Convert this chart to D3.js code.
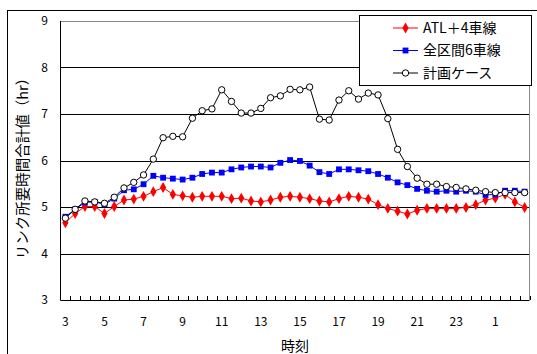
<!DOCTYPE html>
<html lang="ja">
  <head>
    <meta charset="utf-8" />
    <title>リンク所要時間合計値</title>
    <script src="https://cdn.jsdelivr.net/npm/d3@7"></script>
    <style>
      body { margin: 0; background: #fff; }
      text { font-family: "Noto Sans CJK JP", "DejaVu Sans", sans-serif; fill: #000; }
    </style>
  </head>
  <body>
    <script>
      // time slots, every 30 minutes from 3:00 to 26:30 (= 2:30 next day)
      const times = [3, 3.5, 4, 4.5, 5, 5.5, 6, 6.5, 7, 7.5, 8, 8.5, 9, 9.5, 10, 10.5,
        11, 11.5, 12, 12.5, 13, 13.5, 14, 14.5, 15, 15.5, 16, 16.5, 17, 17.5, 18, 18.5,
        19, 19.5, 20, 20.5, 21, 21.5, 22, 22.5, 23, 23.5, 24, 24.5, 25, 25.5, 26, 26.5];

      const atl4 = [4.66, 4.86, 5.01, 5.01, 4.86, 5.01, 5.15, 5.17, 5.23, 5.33, 5.42, 5.27,
        5.24, 5.21, 5.23, 5.23, 5.23, 5.18, 5.19, 5.13, 5.11, 5.15, 5.21, 5.23,
        5.21, 5.18, 5.13, 5.11, 5.18, 5.23, 5.21, 5.17, 5.05, 4.97, 4.91, 4.85,
        4.93, 4.97, 4.97, 4.97, 4.97, 4.99, 5.05, 5.15, 5.19, 5.27, 5.11, 4.99];

      const all6 = [4.79, 4.95, 5.10, 5.11, 5.06, 5.18, 5.36, 5.38, 5.49, 5.67, 5.63, 5.61,
        5.59, 5.63, 5.71, 5.74, 5.74, 5.81, 5.85, 5.87, 5.87, 5.85, 5.95, 6.01,
        5.99, 5.89, 5.75, 5.71, 5.81, 5.81, 5.79, 5.77, 5.71, 5.63, 5.53, 5.47,
        5.39, 5.35, 5.33, 5.35, 5.33, 5.35, 5.33, 5.26, 5.27, 5.35, 5.35, 5.33];

      const plan = [4.76, 4.95, 5.13, 5.11, 5.08, 5.21, 5.41, 5.53, 5.69, 6.03, 6.49, 6.52,
        6.51, 6.91, 7.07, 7.11, 7.52, 7.27, 7.02, 7.02, 7.12, 7.35, 7.39, 7.53,
        7.52, 7.58, 6.89, 6.87, 7.30, 7.50, 7.32, 7.45, 7.41, 6.90, 6.24, 5.87,
        5.62, 5.49, 5.49, 5.44, 5.42, 5.39, 5.36, 5.33, 5.31, 5.31, 5.31, 5.31];

      const xTickLabels = ["3", "5", "7", "9", "11", "13", "15", "17", "19", "21", "23", "1"];
      const yTicks = [3, 4, 5, 6, 7, 8, 9];
      const seriesNames = ["ATL＋4車線", "全区間6車線", "計画ケース"];

      const width = 537, height = 354;
      const pLeft = 60.5, pRight = 529.5, pTop = 21, pBottom = 300;

      const svg = d3.select("body").append("svg")
        .attr("width", width)
        .attr("height", height);

      // chart border (runs off the right and bottom of the picture)
      svg.append("rect")
        .attr("x", 7.5).attr("y", 10.5)
        .attr("width", 560).attr("height", 400)
        .attr("fill", "none").attr("stroke", "#000");

      const x = d3.scaleBand().domain(d3.range(times.length)).range([pLeft, pRight]).padding(0);
      const y = d3.scaleLinear().domain([3, 9]).range([pBottom, pTop]);
      const cx = (i) => x(i) + x.bandwidth() / 2;

      // gridlines
      svg.append("g").selectAll("line")
        .data(yTicks.filter((d) => d > 3 && d < 9))
        .join("line")
        .attr("x1", pLeft).attr("x2", pRight)
        .attr("y1", (d) => Math.round(y(d)) + 0.5)
        .attr("y2", (d) => Math.round(y(d)) + 0.5)
        .attr("stroke", "#000");

      // plot area border top / right
      svg.append("path")
        .attr("d", `M${pLeft},${Math.round(y(9)) + 0.5}H${pRight}V${pBottom}`)
        .attr("fill", "none").attr("stroke", "#888");

      // axes lines
      svg.append("path")
        .attr("d", `M${pLeft},${pTop}V${pBottom + 0.5}H${pRight}`)
        .attr("fill", "none").attr("stroke", "#000");

      // y tick labels
      svg.append("g").selectAll("text")
        .data(yTicks)
        .join("text")
        .attr("x", 48)
        .attr("y", (d) => y(d))
        .attr("dy", "0.35em")
        .attr("text-anchor", "end")
        .attr("font-size", 12)
        .text((d) => d);

      // x minor ticks at category boundaries, pointing up
      svg.append("g").selectAll("line")
        .data(d3.range(1, times.length + 1))
        .join("line")
        .attr("x1", (i) => Math.round(pLeft + i * x.bandwidth()) + 0.5)
        .attr("x2", (i) => Math.round(pLeft + i * x.bandwidth()) + 0.5)
        .attr("y1", pBottom - 4)
        .attr("y2", pBottom)
        .attr("stroke", "#000");

      // x tick labels every 4 slots
      svg.append("g").selectAll("text")
        .data(xTickLabels)
        .join("text")
        .attr("x", (d, i) => cx(i * 4))
        .attr("y", 322)
        .attr("dy", "0.35em")
        .attr("text-anchor", "middle")
        .attr("font-size", 12)
        .text((d) => d);

      svg.append("text")
        .attr("x", (pLeft + pRight) / 2)
        .attr("y", 346)
        .attr("dy", "0.35em")
        .attr("text-anchor", "middle")
        .attr("font-size", 14)
        .text("時刻");

      svg.append("text")
        .attr("transform", "translate(23,165) rotate(-90)")
        .attr("dy", "0.35em")
        .attr("text-anchor", "middle")
        .attr("font-size", 14.5)
        .text("リンク所要時間合計値（hr）");

      const line = d3.line().x((d, i) => cx(i)).y((d) => y(d));

      const diamond = d3.symbol().type(d3.symbolDiamond).size(34);
      const square = d3.symbol().type(d3.symbolSquare).size(34);
      const circle = d3.symbol().type(d3.symbolCircle).size(32);

      const series = [
        { name: seriesNames[0], values: atl4, color: "#ff0000", sym: diamond, fill: "#ff0000" },
        { name: seriesNames[1], values: all6, color: "#0000ff", sym: square, fill: "#0000ff" },
        { name: seriesNames[2], values: plan, color: "#000000", sym: circle, fill: "#ffffff" },
      ];

      series.forEach((s) => {
        svg.append("path")
          .datum(s.values)
          .attr("d", line)
          .attr("fill", "none")
          .attr("stroke", s.color)
          .attr("stroke-width", 1);

        svg.append("g").selectAll("path")
          .data(s.values)
          .join("path")
          .attr("transform", (d, i) => `translate(${cx(i)},${y(d)})`)
          .attr("d", s.sym)
          .attr("fill", s.fill)
          .attr("stroke", s.color)
          .attr("stroke-width", s.fill === "#ffffff" ? 1 : 0);
      });

      // legend
      const legend = svg.append("g");
      legend.append("rect")
        .attr("x", 359.5).attr("y", 15.5)
        .attr("width", 172).attr("height", 70)
        .attr("fill", "#fff").attr("stroke", "#000");

      series.forEach((s, i) => {
        const ly = 28 + i * 22.5;
        legend.append("line")
          .attr("x1", 393).attr("x2", 418)
          .attr("y1", ly).attr("y2", ly)
          .attr("stroke", s.color);
        legend.append("path")
          .attr("transform", `translate(405.5,${ly})`)
          .attr("d", s.sym)
          .attr("fill", s.fill)
          .attr("stroke", s.color)
          .attr("stroke-width", s.fill === "#ffffff" ? 1 : 0);
        legend.append("text")
          .attr("x", 423)
          .attr("y", ly)
          .attr("dy", "0.35em")
          .attr("font-size", 14)
          .text(s.name);
      });
    </script>
  </body>
</html>
